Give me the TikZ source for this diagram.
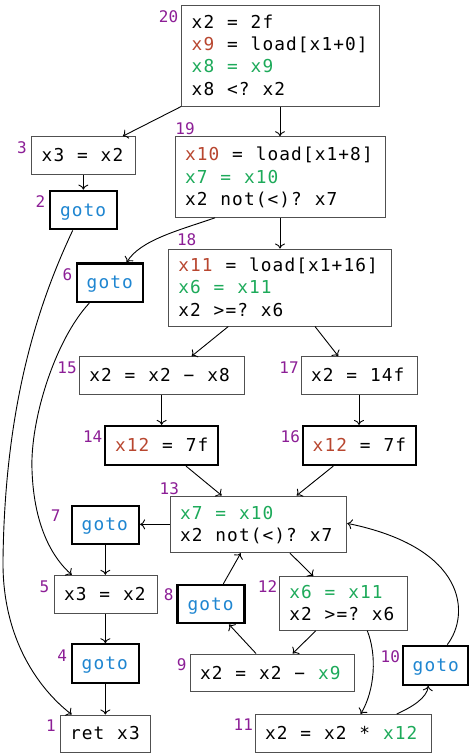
\documentclass[tikz,border=0pt]{standalone}
\usepackage{fontspec}
\usepackage{xcolor}
\usetikzlibrary{arrows.meta}
\newfontfamily\codefont{DejaVu Sans Mono}
\definecolor{cred}{HTML}{B8462F}
\definecolor{cgreen}{HTML}{1DAA5A}
\definecolor{cblue}{HTML}{1F86D1}
\definecolor{lblpurple}{HTML}{8C1E96}
\definecolor{boxgray}{HTML}{505050}
\newcommand\codestrut{\rule[-3.6pt]{0pt}{19.6pt}}
% typeset a string on a fixed 11.8pt character grid (~ stands for a blank cell)
\makeatletter
\def\mono#1{\mono@#1\mono@end}
\def\mono@end{\mono@end@}
\def\mono@#1{\ifx#1\mono@end\else\makebox[11.8pt]{#1}\expandafter\mono@\fi}
\makeatother
\newcommand\rd[1]{\textcolor{cred}{\mono{#1}}}
\newcommand\gr[1]{\textcolor{cgreen}{\mono{#1}}}
\newcommand\jmp{\textcolor{cblue}{\mono{goto}}}
\tikzset{
  box/.style={draw=boxgray, line width=1pt, inner xsep=9.5pt, inner ysep=0pt,
    align=left, font=\codefont\fontsize{17.8}{22.4}\selectfont,
    execute at begin node=\codestrut, execute at end node=\codestrut},
  jumpbox/.style={box, draw=black, line width=2.2pt},
  lbl/.style={text=lblpurple, inner sep=0pt, font=\codefont\fontsize{16}{16}\selectfont},
  flow/.style={draw=black, line width=0.9pt,
    -{Computer Modern Rightarrow[length=5pt,width=10pt]}},
}
\begin{document}
\begin{tikzpicture}[x=1pt,y=-1pt]
\fill[white] (0,0) rectangle (469,753);
\useasboundingbox (0,0) rectangle (469,753);

% basic blocks
\node[box, minimum width=197.6pt, minimum height=101pt, text width=178.6pt] (n20) at (280.5,55.5)
  {\mono{x2~=~2f}\\\rd{x9}\mono{~=~load[x1+0]}\\\gr{x8~=~x9}\\\mono{x8~<?~x2}};
\node[box, minimum width=103.3pt, minimum height=37.6pt, text width=84.3pt] (n3) at (83.35,155.5) {\mono{x3~=~x2}};
\node[box, minimum width=210pt, minimum height=80.6pt, text width=191pt] (n19) at (280,177)
  {\rd{x10}\mono{~=~load[x1+8]}\\\gr{x7~=~x10}\\\mono{x2~not(<)?~x7}};
\node[jumpbox, minimum width=66.7pt, minimum height=38.6pt, text width=47.7pt] (n2) at (83.35,210) {\jmp};
\node[jumpbox, minimum width=66.6pt, minimum height=38.5pt, text width=47.6pt] (n6) at (110,282.75) {\jmp};
\node[box, minimum width=223.4pt, minimum height=77pt, text width=204.4pt] (n18) at (280,287.5)
  {\rd{x11}\mono{~=~load[x1+16]}\\\gr{x6~=~x11}\\\mono{x2~>=?~x6}};
\node[box, minimum width=164.7pt, minimum height=37.6pt, text width=145.7pt] (n15) at (161.65,375.5) {\mono{x2~=~x2~−~x8}};
\node[box, minimum width=116pt, minimum height=37.6pt, text width=97pt] (n17) at (359,375.5) {\mono{x2~=~14f}};
\node[jumpbox, minimum width=113.3pt, minimum height=39pt, text width=94.3pt] (n14) at (161.65,445.5) {\rd{x12}\mono{~=~7f}};
\node[jumpbox, minimum width=113pt, minimum height=39pt, text width=94pt] (n16) at (359.2,445.5) {\rd{x12}\mono{~=~7f}};
\node[box, minimum width=176.7pt, minimum height=56.7pt, text width=157.7pt] (n13) at (258.35,524.35)
  {\gr{x7~=~x10}\\\mono{x2~not(<)?~x7}};
\node[jumpbox, minimum width=67.3pt, minimum height=38.3pt, text width=48.3pt] (n7) at (105.35,524.85) {\jmp};
\node[box, minimum width=103pt, minimum height=38pt, text width=84pt] (n5) at (105.5,594.3) {\mono{x3~=~x2}};
\node[jumpbox, minimum width=67pt, minimum height=38.3pt, text width=48pt] (n8) at (211,604.15) {\jmp};
\node[box, minimum width=128pt, minimum height=53.6pt, text width=109pt] (n12) at (343.3,603.5)
  {\gr{x6~=~x11}\\\mono{x2~>=?~x6}};
\node[jumpbox, minimum width=67.3pt, minimum height=38.4pt, text width=48.3pt] (n4) at (105.35,663.5) {\jmp};
\node[box, minimum width=164pt, minimum height=37.7pt, text width=145pt] (n9) at (272,672.85) {\mono{x2~=~x2~−~}\gr{x9}};
\node[jumpbox, minimum width=65.6pt, minimum height=39pt, text width=46.6pt] (n10) at (435.5,665.2) {\jmp};
\node[box, minimum width=176.7pt, minimum height=37.5pt, text width=157.7pt] (n11) at (343.35,733.25) {\mono{x2~=~x2~*~}\gr{x12}};
\node[box, minimum width=90.7pt, minimum height=37pt, text width=71.7pt] (n1) at (105.35,733.5) {\mono{ret~x3}};

% block numbers
\node[lbl] (l20) at (168.5,17) {20};
\node[lbl] (l3) at (22,148) {3};
\node[lbl] (l19) at (185,129) {19};
\node[lbl] (l2) at (40.5,201.7) {2};
\node[lbl] (l6) at (67.5,274.7) {6};
\node[lbl] (l18) at (186.7,240) {18};
\node[lbl] (l15) at (67,367.5) {15};
\node[lbl] (l17) at (289,367.5) {17};
\node[lbl] (l14) at (92.7,436.7) {14};
\node[lbl] (l16) at (290.3,436.7) {16};
\node[lbl] (l13) at (169.3,489) {13};
\node[lbl] (l7) at (55.8,516) {7};
\node[lbl] (l5) at (44.5,587) {5};
\node[lbl] (l8) at (168.8,595) {8};
\node[lbl] (l12) at (267.5,587) {12};
\node[lbl] (l4) at (62.3,656) {4};
\node[lbl] (l9) at (181.7,664.5) {9};
\node[lbl] (l10) at (390.3,656.5) {10};
\node[lbl] (l11) at (243.3,725) {11};
\node[lbl] (l1) at (51,725.3) {1};

% control flow
\draw[flow] (n20.south west) -- ([xshift=39.4pt]n3.north);
\draw[flow] (n19.north |- n20.south) -- (n19.north);
\draw[flow] (n3.south) -- (n2.north);
\draw[flow] ([xshift=-10.65pt]n2.south) .. controls (40,300) and (5,400) .. (3,560)
  .. controls (2,640) and (40,690) .. ([xshift=-33.65pt]n1.north);
\draw[flow] ([xshift=-65pt]n19.south) .. controls (180,230) and (140,240) .. ([xshift=16.7pt]n6.north);
\draw[flow] (n19.south) -- (n18.north);
\draw[flow] ([xshift=-20.7pt]n6.south) .. controls (55,340) and (30,420) .. (32,470)
  .. controls (34,530) and (55,560) .. ([xshift=-33.8pt]n5.north);
\draw[flow] ([xshift=-51.7pt]n18.south) -- ([xshift=30pt]n15.north);
\draw[flow] ([xshift=35pt]n18.south) -- ([xshift=-20.7pt]n17.north);
\draw[flow] (n15.south) -- (n14.north);
\draw[flow] (n17.south) -- (n17.south |- n16.north);
\draw[flow] ([xshift=24.35pt]n14.south) -- ([xshift=-36.65pt]n13.north);
\draw[flow] ([xshift=-25.9pt]n16.south) -- ([xshift=38.35pt]n13.north);
\draw[flow] (n13.west) -- (n13.west -| n7.east);
\draw[flow] (n7.south) -- (n7.south |- n5.north);
\draw[flow] ([xshift=31.65pt]n13.south) -- ([xshift=-30pt]n12.north);
\draw[flow] ([xshift=12.3pt]n8.north) -- ([xshift=-17.65pt]n13.south);
\draw[flow] (n5.south -| n4.north) -- (n4.north);
\draw[flow] ([xshift=-27.6pt]n12.south) -- ([xshift=20.7pt]n9.north);
\draw[flow] ([xshift=-16pt]n9.north) -- ([xshift=18pt]n8.south);
\draw[flow] ([xshift=24pt]n12.south) .. controls (377,655) and (375,690) .. ([xshift=17.35pt]n11.north);
\draw[flow] ([xshift=53.35pt]n11.north) .. controls (412,707) and (427,698) .. ([xshift=-7.2pt]n10.south);
\draw[flow] ([xshift=11.8pt]n10.north) .. controls (470,615) and (468,548) .. ([yshift=1pt]n13.east);
\draw[flow] (n4.south) -- (n1.north);
\end{tikzpicture}
\end{document}
